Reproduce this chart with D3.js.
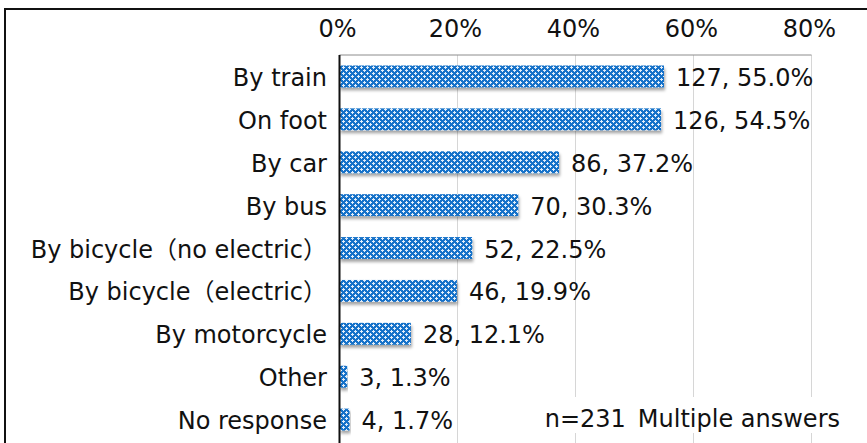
<!DOCTYPE html>
<html>
<head>
<meta charset="utf-8">
<script src="https://cdn.jsdelivr.net/npm/d3@7"></script>
<style>
  body { margin: 0; background: #fff; }
  svg text { font-family: "DejaVu Sans", "Noto Sans CJK JP", sans-serif; fill: #111; }
</style>
</head>
<body>
<div id="chart"></div>
<script>
'use strict';

// Data
const categories = ['By train', 'On foot', 'By car', 'By bus', 'By bicycle（no electric）',
    'By bicycle（electric）', 'By motorcycle', 'Other', 'No response'];
const counts = [127, 126, 86, 70, 52, 46, 28, 3, 4];
const percents = [55.0, 54.5, 37.2, 30.3, 22.5, 19.9, 12.1, 1.3, 1.7];
const tickValues = [0, 20, 40, 60, 80];
const note = 'n=231\u2002Multiple answers';

// Config svg
const w = 867, h = 443;
const margin = {top: 55, left: 339.5, right: 55.5, bottom: 2};
const fontSize = 24;

const svg = d3.select('#chart')
    .append('svg')
    .attr('width', w)
    .attr('height', h);

const defs = svg.append('defs');

// Dotted blue fill
const pat = defs.append('pattern')
    .attr('id', 'dots')
    .attr('patternUnits', 'userSpaceOnUse')
    .attr('width', 6)
    .attr('height', 6);
pat.append('rect').attr('width', 6).attr('height', 6).attr('fill', '#1572c9');
[[0, 0], [3, 3]].forEach(p => {
    pat.append('rect').attr('x', p[0] + 1).attr('y', p[1]).attr('width', 1).attr('height', 3).attr('fill', '#e3eefa');
    pat.append('rect').attr('x', p[0]).attr('y', p[1] + 1).attr('width', 3).attr('height', 1).attr('fill', '#e3eefa');
});

// Shadow under bars
const filt = defs.append('filter')
    .attr('id', 'shadow')
    .attr('x', '-10%').attr('y', '-30%')
    .attr('width', '120%').attr('height', '180%');
filt.append('feDropShadow')
    .attr('dx', 1).attr('dy', 3)
    .attr('stdDeviation', 1.6)
    .attr('flood-color', '#000')
    .attr('flood-opacity', 0.35);

// Outer frame
svg.append('path')
    .attr('d', `M5,${h + 2}V9H${w + 2}`)
    .attr('fill', 'none')
    .attr('stroke', '#111')
    .attr('stroke-width', 2);

// Scales
const x = d3.scaleLinear()
    .domain([0, 80])
    .range([margin.left, w - margin.right]);
const y = d3.scaleBand()
    .domain(categories)
    .range([margin.top, h - margin.bottom])
    .paddingInner(0.49)
    .paddingOuter(0.245);

// Gridlines
svg.append('g')
    .selectAll('line')
    .data(tickValues.slice(1))
    .join('line')
    .attr('x1', d => x(d)).attr('x2', d => x(d))
    .attr('y1', margin.top).attr('y2', h)
    .attr('stroke', '#d6d6d6')
    .attr('stroke-width', 1);

// Plot top border
svg.append('line')
    .attr('x1', x(0)).attr('x2', x(80))
    .attr('y1', margin.top).attr('y2', margin.top)
    .attr('stroke', '#8c8c8c')
    .attr('stroke-width', 1);

// Top axis labels
svg.append('g')
    .selectAll('text')
    .data(tickValues)
    .join('text')
    .attr('x', d => x(d) - 2)
    .attr('y', 37)
    .attr('text-anchor', 'middle')
    .attr('font-size', fontSize)
    .text(d => d + '%');

// Bars
svg.append('g')
    .selectAll('rect')
    .data(categories)
    .join('rect')
    .attr('x', x(0))
    .attr('y', d => y(d))
    .attr('width', (d, i) => x(percents[i]) - x(0))
    .attr('height', y.bandwidth())
    .attr('fill', 'url(#dots)')
    .attr('filter', 'url(#shadow)');

// Note with white background
const noteG = svg.append('g');
const noteBg = noteG.append('rect').attr('fill', '#fff');
const noteText = noteG.append('text')
    .attr('x', w - 27)
    .attr('y', 427)
    .attr('text-anchor', 'end')
    .attr('font-size', fontSize)
    .text(note);
const bb = noteText.node().getBBox();
noteBg.attr('x', bb.x - 4).attr('y', 397)
    .attr('width', bb.width + 8).attr('height', 36);

// Left axis line
svg.append('line')
    .attr('x1', x(0)).attr('x2', x(0))
    .attr('y1', margin.top).attr('y2', h)
    .attr('stroke', '#111')
    .attr('stroke-width', 2);

// Category labels
svg.append('g')
    .selectAll('text')
    .data(categories)
    .join('text')
    .attr('x', 327)
    .attr('y', d => y(d) + y.bandwidth() / 2)
    .attr('dy', '0.4em')
    .attr('text-anchor', 'end')
    .attr('font-size', fontSize)
    .text(d => d);

// Value labels
svg.append('g')
    .selectAll('text')
    .data(categories)
    .join('text')
    .attr('x', (d, i) => x(percents[i]) + 12)
    .attr('y', d => y(d) + y.bandwidth() / 2)
    .attr('dy', '0.4em')
    .attr('font-size', fontSize)
    .text((d, i) => `${counts[i]}, ${percents[i].toFixed(1)}%`);
</script>
</body>
</html>
